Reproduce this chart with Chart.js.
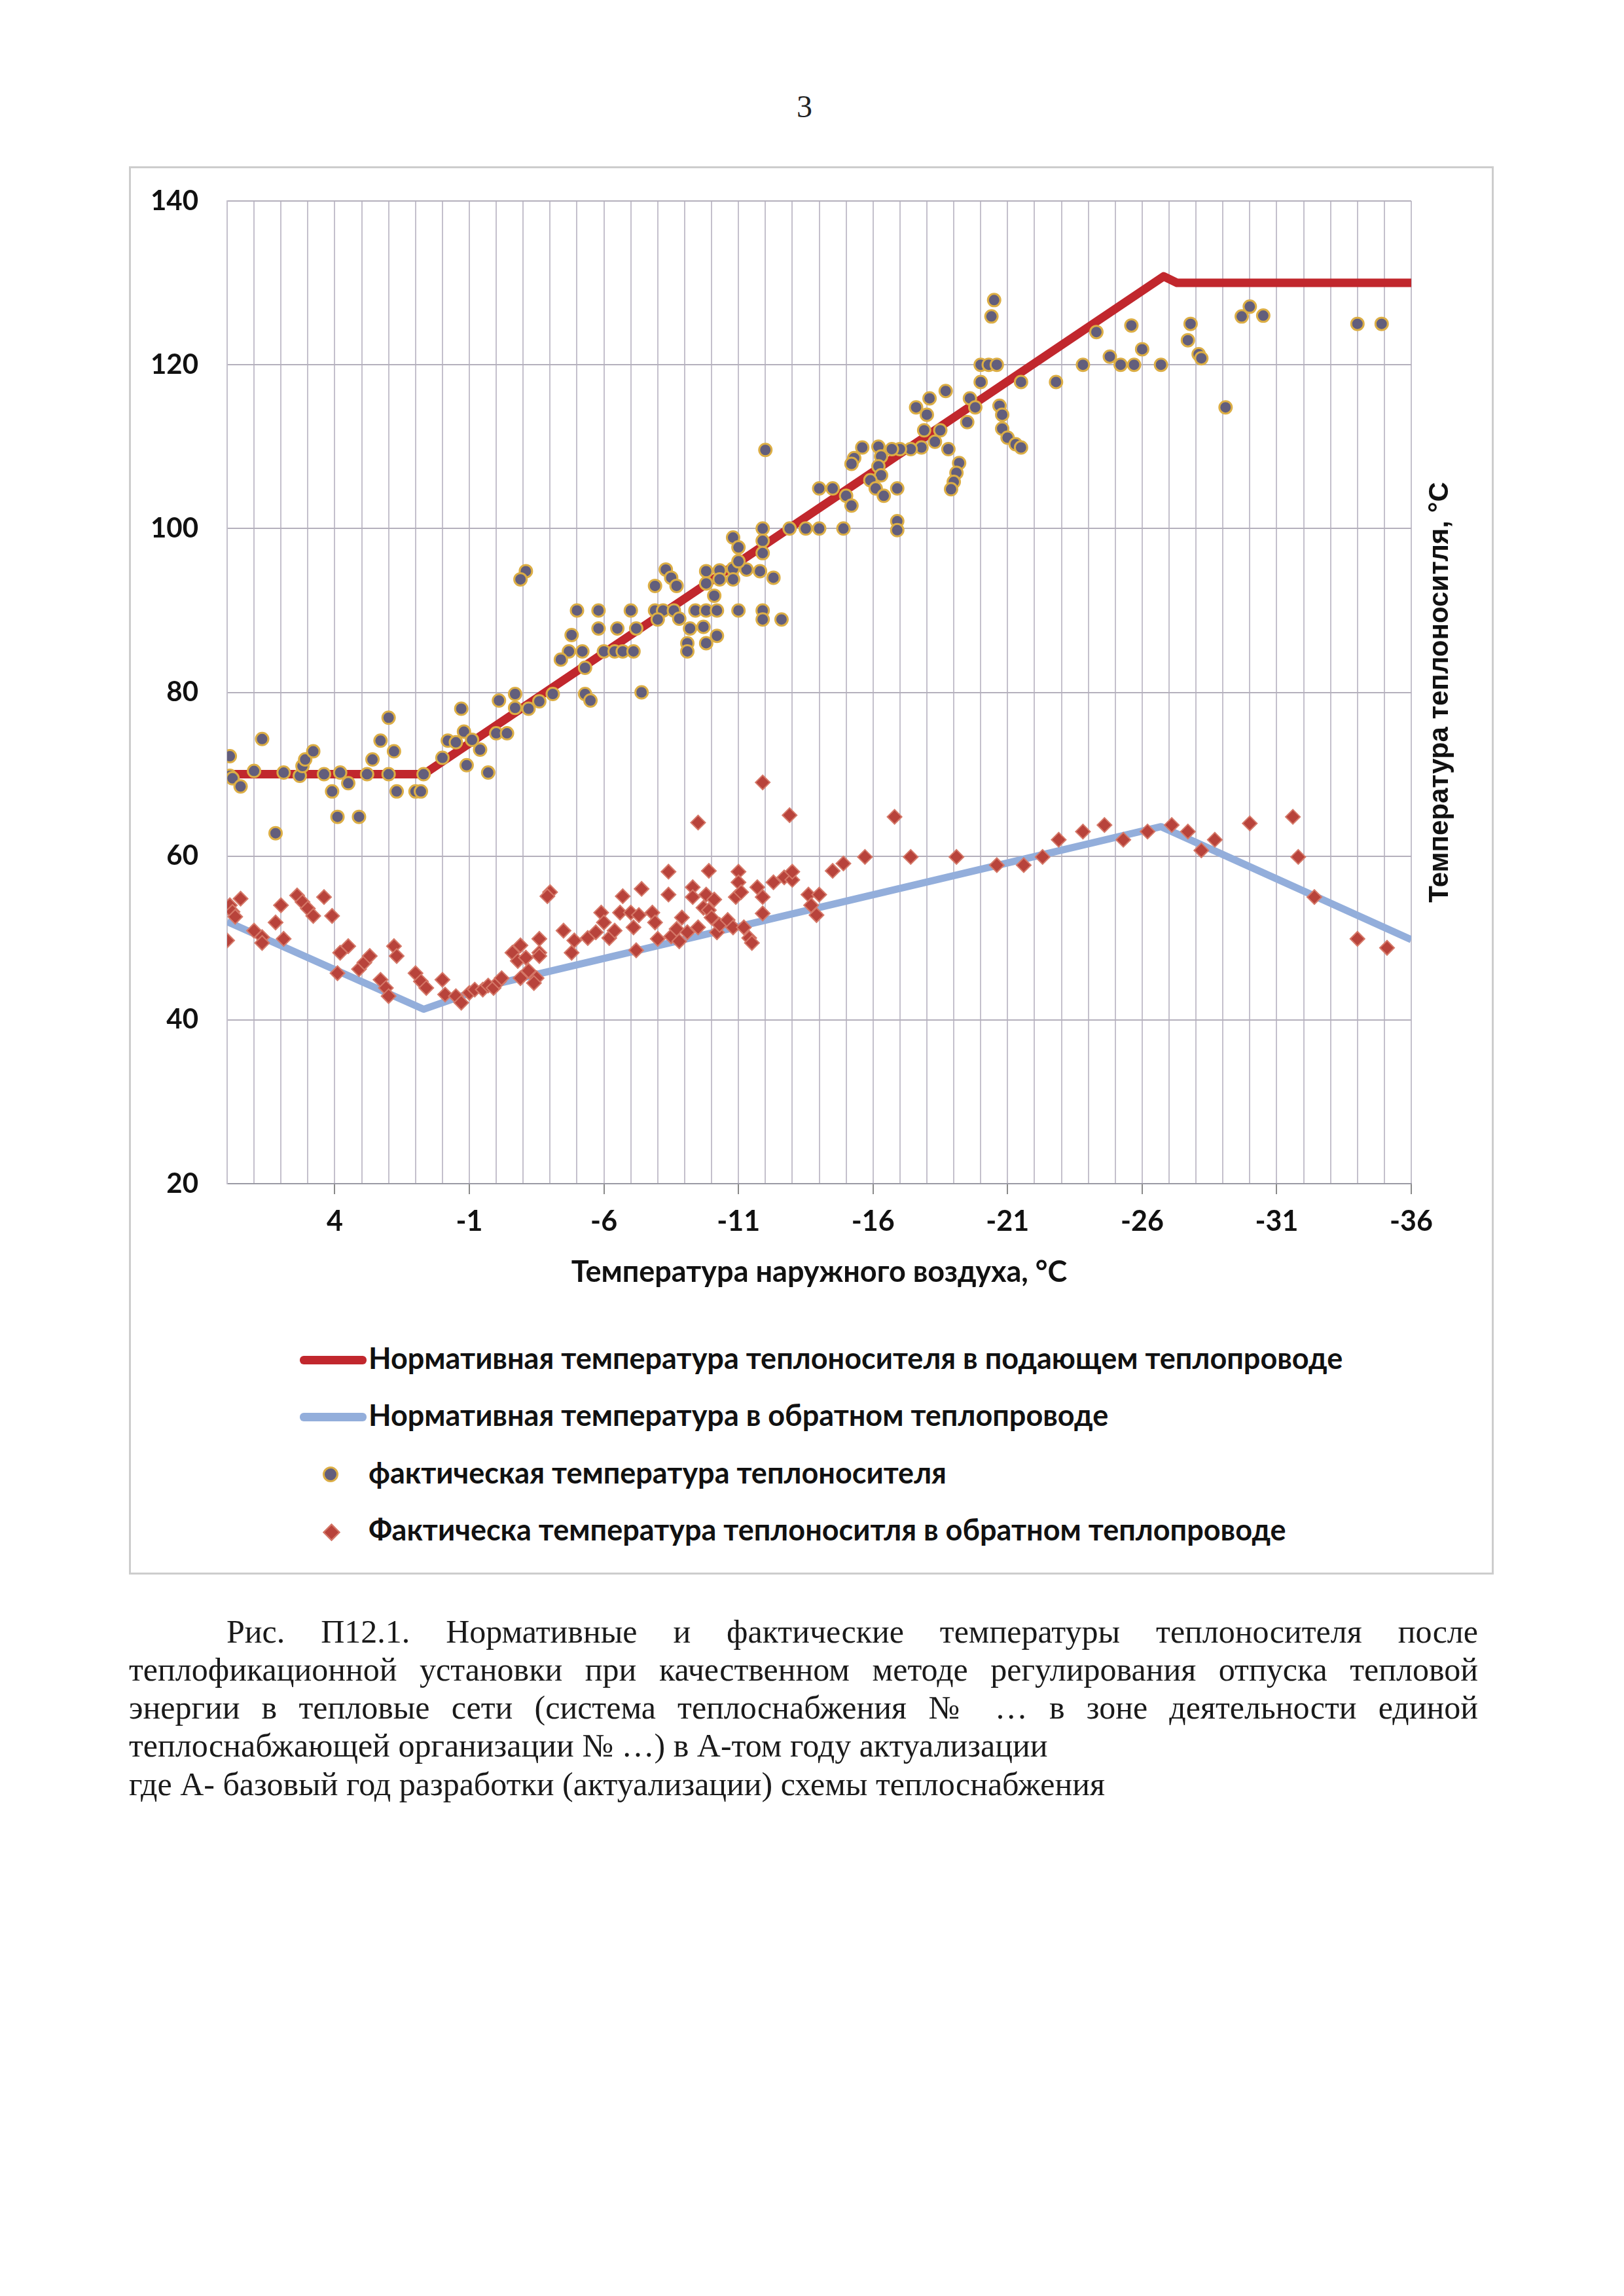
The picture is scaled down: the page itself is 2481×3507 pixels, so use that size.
<!DOCTYPE html>
<html lang="ru">
<head>
<meta charset="utf-8">
<script src="https://cdn.jsdelivr.net/npm/chart.js@4.4.1/dist/chart.umd.min.js"></script>
<style>
  html, body { margin: 0; padding: 0; background: #fff; }
  #page { position: relative; width: 2481px; height: 3507px; background: #fff; overflow: hidden; }
  #pnum { position: absolute; left: 0; width: 2458px; top: 134px; text-align: center;
          font: 48px/58px "Liberation Serif", serif; color: #222; }
  #box { position: absolute; left: 197px; top: 254px; width: 2085px; height: 2151px;
         border: 3px solid #cdcdcd; box-sizing: border-box; }
  #wrap { position: absolute; left: 197px; top: 254px; width: 2085px; height: 1734px; }
  .lg { position: absolute; left: 563px; height: 60px; line-height: 60px; white-space: nowrap;
        font: bold 45px Lato, sans-serif; color: #111; }
  .sym { position: absolute; }
  .cap { position: absolute; left: 197px; width: 2061px; font: 50px/58px "Liberation Serif", serif;
         color: #1a1a1a; white-space: nowrap; }
  .just { text-align: justify; text-align-last: justify; white-space: normal; }
</style>
</head>
<body>
<div id="page">
  <div id="pnum">3</div>
  <div id="box"></div>
  <div id="wrap"><canvas id="chart"></canvas></div>
  <div id="legend"></div>
  <div class="cap just" style="top:2463px;left:346px;width:1912px;">Рис. П12.1. Нормативные и фактические температуры теплоносителя после</div>
  <div class="cap just" style="top:2521px;">теплофикационной установки при качественном методе регулирования отпуска тепловой</div>
  <div class="cap just" style="top:2579px;">энергии в тепловые сети (система теплоснабжения № … в зоне деятельности единой</div>
  <div class="cap" style="top:2637px;">теплоснабжающей организации № …) в А-том году актуализации</div>
  <div class="cap" style="top:2696px;">где А- базовый год разработки (актуализации) схемы теплоснабжения</div>
</div>
<script>
// Нормативные графики (температура наружного воздуха -> температура теплоносителя)
const supplyNormX = [8, 0.7, -26.8, -27.3, -36];
const supplyNormY = [70, 70, 130.8, 130, 130];
const returnNormX = [8, 0.7, -2.0, -26.7, -36];
const returnNormY = [52, 41.3, 44.4, 63.6, 49.8];

// фактическая температура теплоносителя (подающий)
const factSupplyX = [7.9, 7.9, 7.8, 7.5, 7.0, 6.7, 6.2, 5.9, 5.3, 5.2, 5.1, 4.8, 4.4, 4.1, 3.9, 3.8, 3.5, 3.1,
  2.8, 2.6, 2.3, 2.0, 1.8, 2.0, 1.7, 1.0, 0.8, 0.7, 0.0, -0.2, -0.5,
  -0.7, -0.8, -1.1, -1.4, -0.9, -1.7, -2.0, -2.4, -2.7, -2.1, -2.7, -3.2, -3.6, -4.1,
  -3.1, -2.9, -5.3, -5.5, -7.4,
  -4.8, -4.7, -5.2, -4.4, -5.3, -6.0, -6.4, -6.7, -7.1, -5.8, -6.5, -7.2, -5.0, -5.8, -7.0,
  -7.9, -8.2, -8.6, -8.0, -8.8, -9.2, -9.7, -10.2, -9.1, -9.8, -9.1,
  -9.4, -9.8, -10.2, -11.0, -11.9, -11.9, -12.6,
  -7.9, -8.3, -8.5, -8.7, -9.8, -10.3, -10.8, -11.3, -11.8, -12.3, -9.8, -10.3, -10.8, -10.1,
  -10.8, -11.0, -11.0, -11.9, -11.9, -11.9, -12.9, -13.5, -12.0,
  -20.5, -20.4, -20.0, -20.3, -20.6, -20.0, -19.6, -19.8, -19.5, -18.7, -18.1, -17.6, -18.0,
  -17.9, -18.5, -18.3, -18.8, -17.8, -17.4, -17.0, -16.7,
  -15.6, -16.2, -16.3, -16.2, -16.3, -15.9, -16.1, -16.4, -16.9, -15.3, -15.2,
  -14.5, -14.0, -15.0, -15.2, -14.9, -14.0, -16.9, -16.9,
  -19.2, -19.1, -19.0, -18.9, -20.7, -20.8, -20.8, -21.0, -21.3, -21.5,
  -21.5, -22.8, -23.8, -24.3, -24.8, -25.2, -25.7, -26.7, -25.6, -26.0,
  -27.8, -27.7, -28.1, -28.2, -29.1, -29.7, -30.0, -30.5, -34.0, -34.9];
const factSupplyY = [72.2, 69.8, 69.5, 68.5, 70.4, 74.3, 62.8, 70.2, 69.8, 71.0, 71.8, 72.8, 70.0, 67.9, 64.8, 70.2, 68.9, 64.8,
  70.0, 71.8, 74.1, 76.9, 72.8, 70.0, 67.9, 67.9, 67.9, 70.0, 72.0, 74.1, 73.9,
  78.0, 75.2, 74.2, 73.0, 71.1, 70.2, 75.0, 75.0, 79.8, 79.0, 78.1, 78.0, 78.9, 79.8,
  94.8, 93.8, 79.8, 79.0, 80.0,
  87.0, 85.0, 85.0, 84.0, 83.0, 85.0, 85.0, 85.0, 85.0, 87.8, 87.8, 87.8, 90.0, 90.0, 90.0,
  90.0, 90.0, 90.0, 88.9, 89.0, 87.8, 88.0, 86.9, 86.0, 86.0, 85.0,
  90.0, 90.0, 90.0, 90.0, 90.0, 88.9, 88.9,
  93.0, 95.0, 94.0, 93.0, 94.8, 94.9, 95.1, 95.0, 94.8, 94.0, 93.3, 93.8, 93.8, 91.8,
  98.9, 97.7, 96.0, 100.0, 98.5, 97.0, 100.0, 100.0, 109.6,
  127.9, 125.9, 120.0, 120.0, 120.0, 117.9, 115.9, 114.8, 113.0, 116.8, 115.9, 114.8, 113.9,
  112.0, 112.0, 110.6, 109.7, 109.9, 109.7, 109.7, 109.7,
  109.9, 110.0, 108.8, 107.6, 106.5, 105.9, 104.9, 104.0, 104.9, 108.6, 107.9,
  104.9, 104.9, 104.0, 102.8, 100.0, 100.0, 100.9, 99.8,
  108.0, 106.8, 105.7, 104.8, 115.0, 113.9, 112.2, 111.1, 110.3, 109.9,
  117.9, 117.9, 120.0, 124.0, 121.0, 120.0, 120.0, 120.0, 124.8, 121.9,
  125.0, 123.0, 121.3, 120.8, 114.8, 125.9, 127.1, 126.0, 125.0, 125.0];

// фактическая температура в обратном теплопроводе
const factReturnX = [8.0, 7.9, 7.8, 7.7, 7.5, 7.0, 6.7, 6.7, 6.2, 6.0, 5.9, 5.4, 5.2, 5.0, 4.8, 4.4, 4.1,
  3.9, 3.8, 3.5, 3.1, 2.9, 2.7, 2.3, 2.1, 2.0, 1.8, 1.7, 1.0, 0.8, 0.6, 0.0, -0.1, -0.5,
  -0.7, -1.0, -1.2, -1.5, -1.7, -1.9, -2.1, -2.2,
  -2.6, -2.8, -2.9, -3.1, -3.2, -3.5, -2.9, -3.4, -3.6, -3.6, -3.6, -4.0, -3.9,
  -4.5, -4.8, -4.9, -5.4, -5.7, -5.9, -6.0, -6.2, -6.4, -6.6, -6.7, -7.0, -7.1, -7.2, -7.3, -7.4, -7.8, -7.9, -8.0,
  -8.4, -8.4, -8.5, -8.7, -8.8, -8.9, -9.1, -9.3, -9.3, -9.5, -9.5, -9.7, -9.8, -9.9, -9.9, -10.0,
  -10.1, -10.2, -10.3, -10.6, -10.8, -10.9, -11.0, -11.0, -11.1, -11.2, -11.4, -11.5, -11.7, -11.9, -11.9, -11.9,
  -12.3, -12.7, -12.9, -13.0, -13.0, -13.6, -14.0, -13.7, -13.9, -14.5, -14.9,
  -15.7, -16.8, -17.4, -19.1, -20.6, -21.6, -22.3, -22.9, -23.8, -24.6,
  -25.3, -26.2, -27.1, -27.7, -28.2, -28.7, -30.0, -31.6, -31.8, -32.4, -34.0, -35.1];
const factReturnY = [49.7, 54.0, 53.2, 52.6, 54.8, 50.9, 50.1, 49.4, 51.9, 54.0, 49.9, 55.2, 54.4, 53.6, 52.7, 55.0, 52.7,
  45.7, 48.2, 49.0, 46.2, 47.0, 47.8, 44.9, 43.9, 42.9, 49.0, 47.8, 45.7, 44.7, 43.9, 44.9, 43.1, 42.9,
  42.1, 43.3, 43.7, 43.7, 44.2, 43.9, 44.7, 45.1,
  48.2, 47.2, 49.1, 47.6, 46.0, 45.1, 45.1, 44.5, 49.9, 48.2, 47.8, 55.6, 55.1,
  50.9, 48.2, 49.7, 50.0, 50.7, 53.1, 51.9, 50.0, 50.9, 53.1, 55.1, 53.1, 51.3, 48.5, 52.8, 56.0, 53.1, 51.9, 49.9,
  58.1, 55.3, 50.2, 51.1, 49.6, 52.5, 50.7, 56.2, 55.0, 51.3, 64.1, 53.7, 55.3, 53.4, 58.2, 52.5,
  54.7, 50.7, 51.6, 52.2, 51.3, 55.0, 58.1, 56.8, 55.6, 51.3, 50.0, 49.4, 56.2, 55.0, 53.0, 69.0,
  56.8, 57.4, 65.0, 57.1, 58.1, 55.3, 55.3, 54.0, 52.8, 58.2, 59.1,
  59.9, 64.8, 59.9, 59.9, 58.9, 58.9, 59.9, 62.0, 63.0, 63.8,
  62.0, 63.0, 63.8, 63.0, 60.7, 62.0, 64.0, 64.8, 59.9, 55.0, 49.9, 48.8];

const seriesNames = [
  'Нормативная температура теплоносителя в подающем теплопроводе',
  'Нормативная температура в обратном теплопроводе',
  'фактическая температура теплоносителя',
  'Фактическа температура теплоноситля в обратном теплопроводе'
];
const xTitle = 'Температура наружного воздуха, °C';
const yTitle = 'Температура теплоноситля, °C';

const RED = '#c1272d', BLUE = '#93aedb';
const DOT_FILL = '#625e7c', DOT_EDGE = '#dcae45';
const DIA_FILL = '#b8433b', DIA_EDGE = '#d57868';

const pts = (xs, ys) => xs.map((x, i) => ({ x: x, y: ys[i] }));

// Подпись правой оси (снизу вверх)
const rightTitle = {
  id: 'rightTitle',
  afterDraw(chart) {
    const { ctx, chartArea } = chart;
    ctx.save();
    ctx.translate(2003, (chartArea.top + chartArea.bottom) / 2);
    ctx.rotate(-Math.PI / 2);
    ctx.font = 'bold 42px "Liberation Sans", Arial, sans-serif';
    ctx.fillStyle = '#111';
    ctx.textAlign = 'center';
    ctx.textBaseline = 'middle';
    ctx.fillText(yTitle, 0, 0);
    ctx.restore();
  }
};

const chart = new Chart(document.getElementById('chart'), {
  type: 'scatter',
  data: {
    datasets: [
      { label: seriesNames[0], data: pts(supplyNormX, supplyNormY), showLine: true, borderColor: RED,
        borderWidth: 13, pointRadius: 0, borderJoinStyle: 'round', borderCapStyle: 'round', order: 3 },
      { label: seriesNames[1], data: pts(returnNormX, returnNormY), showLine: true, borderColor: BLUE,
        borderWidth: 11, pointRadius: 0, borderJoinStyle: 'round', order: 2 },
      { label: seriesNames[2], data: pts(factSupplyX, factSupplyY), pointStyle: 'circle', pointRadius: 9.5,
        backgroundColor: DOT_FILL, borderColor: DOT_EDGE, pointBorderWidth: 3, order: 1 },
      { label: seriesNames[3], data: pts(factReturnX, factReturnY), pointStyle: 'rectRot', pointRadius: 11,
        backgroundColor: DIA_FILL, borderColor: DIA_EDGE, pointBorderWidth: 2, order: 0 }
    ]
  },
  options: {
    responsive: true,
    maintainAspectRatio: false,
    devicePixelRatio: 1,
    animation: false,
    layout: { padding: { top: 53, right: 126, left: 0, bottom: 0 } },
    plugins: { legend: { display: false }, tooltip: { enabled: false } },
    scales: {
      x: {
        type: 'linear', min: -36, max: 8, reverse: true,
        afterFit: s => { s.height = 180; },
        grid: {
          color: '#c4c0cc', lineWidth: 2, tickLength: 16,
          tickColor: c => (Math.round(c.tick.value) + 36) % 5 === 0 ? '#8a8a8a' : 'rgba(0,0,0,0)'
        },
        border: { color: '#9a9aa4', width: 2 },
        ticks: {
          stepSize: 1, autoSkip: false, maxRotation: 0, padding: 16, color: '#111',
          font: { family: 'Lato', weight: 'bold', size: 43 },
          callback: v => (Math.round(v) + 36) % 5 === 0 ? String(Math.round(v)) : ''
        },
        title: { display: true, text: xTitle, color: '#111', padding: { top: 0, bottom: 18 },
                 font: { family: 'Lato', weight: 'bold', size: 45 } }
      },
      y: {
        min: 20, max: 140,
        afterFit: s => { s.width = 150; },
        grid: { color: '#b4b0bc', lineWidth: 2, drawTicks: true, tickLength: 40, tickColor: 'rgba(0,0,0,0)' },
        border: { color: '#c4c0cc', width: 2 },
        ticks: { stepSize: 20, padding: 4, color: '#111',
                 font: { family: 'Lato', weight: 'bold', size: 42 } }
      }
    }
  },
  plugins: [rightTitle]
});

// Легенда под графиком
const legendRows = [2077, 2164, 2252, 2339];
const legend = document.getElementById('legend');
seriesNames.forEach((name, i) => {
  const cy = legendRows[i];
  const sym = document.createElement('div');
  sym.className = 'sym';
  if (i < 2) {
    Object.assign(sym.style, { left: '458px', top: (cy - 6) + 'px', width: '102px', height: '13px',
      borderRadius: '6px', background: i === 0 ? RED : BLUE });
  } else if (i === 2) {
    Object.assign(sym.style, { left: '493px', top: (cy - 12) + 'px', width: '18px', height: '18px',
      borderRadius: '50%', background: DOT_FILL, border: '3px solid ' + DOT_EDGE });
  } else {
    Object.assign(sym.style, { left: '497px', top: (cy - 8) + 'px', width: '15px', height: '15px',
      transform: 'rotate(45deg)', background: DIA_FILL, border: '2px solid ' + DIA_EDGE });
  }
  legend.appendChild(sym);
  const t = document.createElement('div');
  t.className = 'lg';
  t.style.top = (cy - 30) + 'px';
  t.textContent = name;
  legend.appendChild(t);
});
</script>
</body>
</html>
